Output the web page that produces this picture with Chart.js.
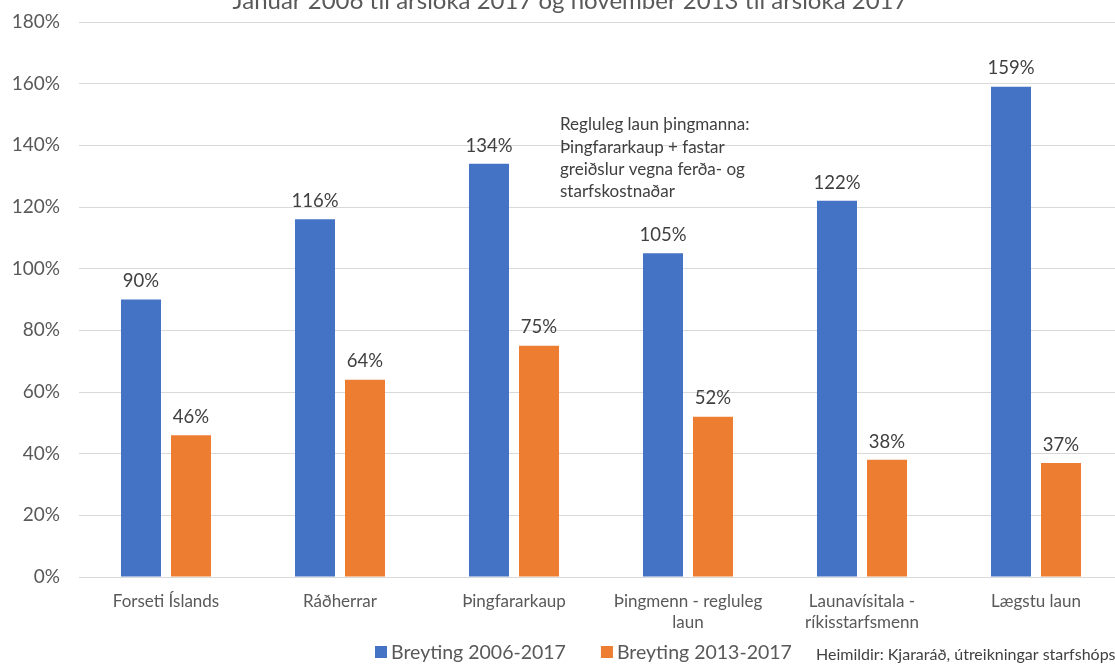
<!DOCTYPE html>
<html>
<head>
<meta charset="utf-8">
<script src="https://cdn.jsdelivr.net/npm/chart.js@4.4.1/dist/chart.umd.min.js"></script>
<style>
    html, body { margin: 0; padding: 0; background: #fff; overflow: hidden; }
    #wrap { width: 1135px; height: 664px; }
</style>
</head>
<body>
<div id="wrap"><canvas id="laun"></canvas></div>
<script>
    // Gögn
    var flokkar = ['Forseti Íslands', 'Ráðherrar', 'Þingfararkaup', ['Þingmenn - regluleg', 'laun'], ['Launavísitala -', 'ríkisstarfsmenn'], 'Lægstu laun'];
    var breyting2006 = [90, 116, 134, 105, 122, 159];
    var breyting2013 = [46, 64, 75, 52, 38, 37];
    var titill = 'Janúar 2006 til ársloka 2017 og nóvember 2013 til ársloka 2017';
    var athugasemd = ['Regluleg laun þingmanna:', 'Þingfararkaup + fastar', 'greiðslur vegna ferða- og', 'starfskostnaðar'];
    var heimild = 'Heimildir: Kjararáð, útreikningar starfshóps';

    var FONT = 'Lato, "Open Sans", sans-serif';

    // Texti og skýringar sem Chart.js teiknar ekki sjálft
    var textar = {
        id: 'textar',
        afterDatasetsDraw: function(chart) {
            var ctx = chart.ctx;
            ctx.save();
            // gildi ofan á súlum
            ctx.font = '18.5px ' + FONT;
            ctx.fillStyle = '#404040';
            ctx.textAlign = 'center';
            ctx.textBaseline = 'bottom';
            chart.data.datasets.forEach(function(ds, i) {
                chart.getDatasetMeta(i).data.forEach(function(bar, j) {
                    ctx.fillText(ds.data[j] + '%', bar.x, bar.y - 9);
                });
            });
            // titill (skorinn að ofan)
            ctx.font = '24px ' + FONT;
            ctx.fillStyle = '#595959';
            ctx.textBaseline = 'alphabetic';
            ctx.fillText(titill, 570, 9);
            // athugasemd
            ctx.font = '17px ' + FONT;
            ctx.fillStyle = '#404040';
            ctx.textAlign = 'left';
            ctx.textBaseline = 'middle';
            athugasemd.forEach(function(line, k) {
                ctx.fillText(line, 560, 125 + k * 22.3);
            });
            // skýringar
            ctx.font = '19.5px ' + FONT;
            var x = 375, y = 652;
            chart.data.datasets.forEach(function(ds) {
                ctx.fillStyle = ds.backgroundColor;
                ctx.fillRect(x, y - 6, 12, 12);
                ctx.fillStyle = '#595959';
                ctx.fillText(ds.label, x + 16, y + 1);
                x += 16 + ctx.measureText(ds.label).width + 35;
            });
            // heimild
            ctx.font = '16px ' + FONT;
            ctx.fillStyle = '#404040';
            ctx.fillText(heimild, 816, 655);
            ctx.restore();
        }
    };

    new Chart(document.getElementById('laun'), {
        type: 'bar',
        data: {
            labels: flokkar,
            datasets: [
                {
                    label: 'Breyting 2006-2017',
                    data: breyting2006,
                    backgroundColor: '#4472c4'
                },
                {
                    label: 'Breyting 2013-2017',
                    data: breyting2013,
                    backgroundColor: '#ed7d31'
                }
            ]
        },
        options: {
            responsive: true,
            maintainAspectRatio: false,
            animation: false,
            layout: { padding: { top: 22, right: 12, left: 0, bottom: 17 } },
            datasets: {
                bar: { categoryPercentage: 0.575, barPercentage: 0.8 }
            },
            plugins: {
                title: { display: false },
                tooltip: { enabled: false },
                legend: { display: false }
            },
            scales: {
                x: {
                    afterFit: function(scale) { scale.height = 70; },
                    grid: { display: false, drawTicks: false },
                    border: { color: '#d9d9d9' },
                    ticks: {
                        color: '#595959',
                        padding: 14,
                        maxRotation: 0,
                        autoSkip: false,
                        font: { family: FONT, size: 17, lineHeight: 1.25 }
                    }
                },
                y: {
                    min: 0,
                    max: 180,
                    afterFit: function(scale) {
                        scale.width = 79;
                        scale.paddingTop = 0;
                        scale.paddingBottom = 0;
                    },
                    grid: { color: '#d9d9d9', drawTicks: false },
                    border: { display: false },
                    ticks: {
                        stepSize: 20,
                        padding: 19,
                        color: '#595959',
                        font: { family: FONT, size: 19 },
                        callback: function(v) { return v + '%'; }
                    }
                }
            }
        },
        plugins: [textar]
    });
</script>
</body>
</html>
